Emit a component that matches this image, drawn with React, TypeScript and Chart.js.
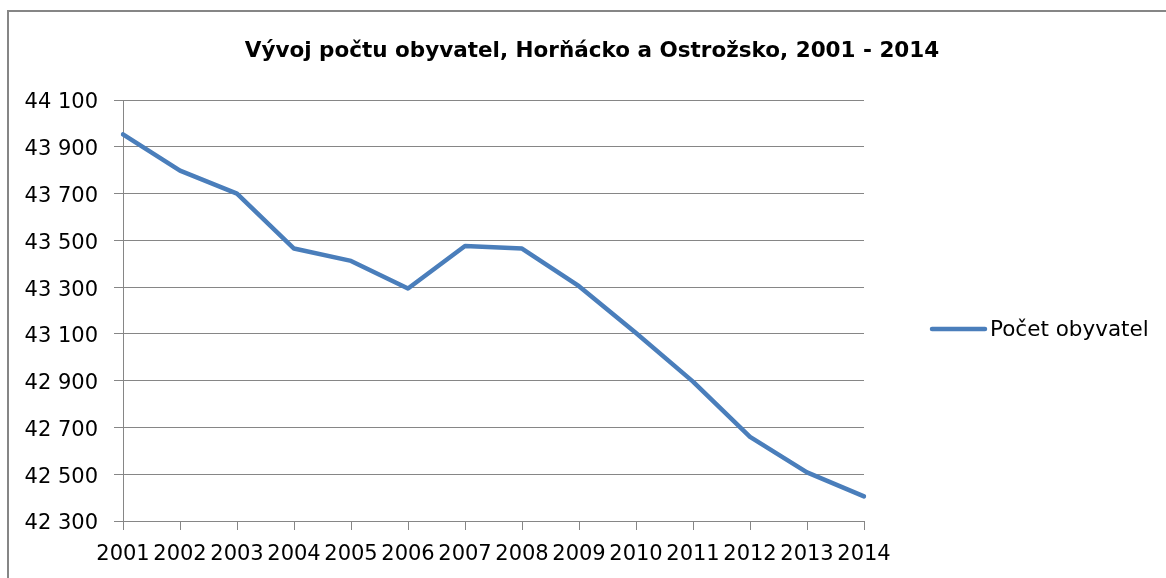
import React, { useEffect, useRef } from "react";
import { Chart, registerables } from "chart.js";

Chart.register(...registerables);

const years = ["2001","2002","2003","2004","2005","2006","2007","2008","2009","2010","2011","2012","2013","2014"];
const population = [43953, 43798, 43700, 43465, 43412, 43294, 43476, 43465, 43304, 43104, 42896, 42660, 42508, 42405];
const seriesName = "Počet obyvatel";
const titleText = "Vývoj počtu obyvatel, Horňácko a Ostrožsko, 2001 - 2014";
const yMin = 42300;
const yMax = 44100;
const yStep = 200;

const BLUE = "#4a7ebb";
const GRAY = "#868686";
const FONT = "'DejaVu Sans', sans-serif";

const fmt = (v: number) => String(v).replace(/\B(?=(\d{3})+(?!\d))/g, " ");

const decor = {
  id: "decor",
  afterDraw(chart: any) {
    const ctx = chart.ctx;
    ctx.save();
    // outer border
    ctx.strokeStyle = GRAY;
    ctx.lineWidth = 2;
    ctx.strokeRect(8, 11, 1300, 700);
    // title
    ctx.fillStyle = "#000";
    ctx.font = `bold 21.5px ${FONT}`;
    ctx.textAlign = "center";
    ctx.textBaseline = "middle";
    ctx.fillText(titleText, 592, 51);
    // legend
    ctx.strokeStyle = BLUE;
    ctx.lineWidth = 4.5;
    ctx.lineCap = "round";
    ctx.beginPath();
    ctx.moveTo(932, 329);
    ctx.lineTo(985, 329);
    ctx.stroke();
    ctx.font = `21.5px ${FONT}`;
    ctx.textAlign = "left";
    ctx.fillText(seriesName, 990, 330);
    ctx.restore();
  },
};

export default function App() {
  const ref = useRef<HTMLCanvasElement>(null);
  useEffect(() => {
    if (!ref.current) return;
    const chart = new Chart(ref.current, {
      type: "line",
      data: {
        labels: years,
        datasets: [
          {
            label: seriesName,
            data: population,
            borderColor: BLUE,
            backgroundColor: BLUE,
            borderWidth: 4.5,
            pointRadius: 0,
            tension: 0,
            borderJoinStyle: "round",
            borderCapStyle: "round",
          },
        ],
      },
      options: {
        responsive: false,
        animation: false,
        devicePixelRatio: 1,
        layout: { padding: { top: 100, right: 302, left: 0, bottom: 0 } },
        plugins: {
          legend: { display: false },
          title: { display: false },
          tooltip: { enabled: false },
        },
        scales: {
          x: {
            afterFit: (s: any) => { s.height = 57; },
            grid: { drawOnChartArea: false, color: GRAY, tickLength: 9, lineWidth: 1 },
            border: { color: GRAY, width: 1 },
            ticks: { color: "#000", font: { family: FONT, size: 21 }, padding: 12, autoSkip: false, maxRotation: 0 },
          },
          y: {
            min: yMin,
            max: yMax,
            afterFit: (s: any) => { s.width = 123; },
            grid: { color: GRAY, tickLength: 9, lineWidth: 1 },
            border: { color: GRAY, width: 1 },
            ticks: {
              stepSize: yStep,
              color: "#000",
              font: { family: FONT, size: 21 },
              padding: 16,
              labelOffset: 3,
              callback: (v: any) => fmt(Number(v)),
            },
          },
        },
      },
      plugins: [decor],
    });
    return () => chart.destroy();
  }, []);
  return (
    <div style={{ position: "fixed", left: 0, top: 0, width: 1166, height: 578, background: "#fff" }}>
      <canvas ref={ref} width={1166} height={578} style={{ width: 1166, height: 578, display: "block" }} />
    </div>
  );
}
